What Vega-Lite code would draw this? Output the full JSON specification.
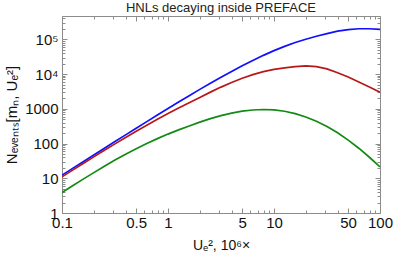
{
  "$schema": "https://vega.github.io/schema/vega-lite/v6.json",
  "width": 318,
  "height": 197,
  "autosize": "none",
  "padding": {"left": 62, "top": 16, "right": 15, "bottom": 46},
  "background": "white",
  "config": {
    "view": {"stroke": "#8c8c8c", "strokeWidth": 1},
    "font": "Liberation Sans",
    "axis": {"labelFont": "Liberation Sans", "titleFont": "Liberation Sans", "labelColor": "#111", "titleColor": "#111", "titleFontWeight": "normal", "domain": false, "grid": false, "tickColor": "#8c8c8c", "labelOverlap": false, "labelBound": false, "labelFlush": false}
  },
  "title": {"text": "HNLs decaying inside PREFACE", "fontSize": 13, "fontWeight": "normal", "font": "Liberation Sans", "color": "#222", "offset": -4},
  "data": {"values": [
    {"s":"blue","x":0.1,"n":12.30},{"s":"blue","x":0.1259,"n":19.23},{"s":"blue","x":0.1585,"n":30.06},{"s":"blue","x":0.1995,"n":46.99},{"s":"blue","x":0.2512,"n":73.28},{"s":"blue","x":0.3162,"n":114.3},{"s":"blue","x":0.3981,"n":177.8},{"s":"blue","x":0.5012,"n":276.1},{"s":"blue","x":0.631,"n":427.6},{"s":"blue","x":0.7943,"n":662.2},{"s":"blue","x":1,"n":1019},{"s":"blue","x":1.259,"n":1563},{"s":"blue","x":1.585,"n":2388},{"s":"blue","x":1.995,"n":3622},{"s":"blue","x":2.512,"n":5445},{"s":"blue","x":3.162,"n":8110},{"s":"blue","x":3.981,"n":11940},{"s":"blue","x":5.012,"n":17340},{"s":"blue","x":6.31,"n":24720},{"s":"blue","x":7.943,"n":34590},{"s":"blue","x":10,"n":47320},{"s":"blue","x":12.59,"n":62810},{"s":"blue","x":15.85,"n":81100},{"s":"blue","x":19.95,"n":100900},{"s":"blue","x":25.12,"n":123000},{"s":"blue","x":31.62,"n":146200},{"s":"blue","x":39.81,"n":171800},{"s":"blue","x":50.12,"n":190500},{"s":"blue","x":63.1,"n":201800},{"s":"blue","x":79.43,"n":201800},{"s":"blue","x":100,"n":193600},
    {"s":"red","x":0.1,"n":10.96},{"s":"red","x":0.1259,"n":17.14},{"s":"red","x":0.1585,"n":26.67},{"s":"red","x":0.1995,"n":41.30},{"s":"red","x":0.2512,"n":63.68},{"s":"red","x":0.3162,"n":97.72},{"s":"red","x":0.3981,"n":148.9},{"s":"red","x":0.5012,"n":224.9},{"s":"red","x":0.631,"n":336.5},{"s":"red","x":0.7943,"n":497.7},{"s":"red","x":1,"n":727.8},{"s":"red","x":1.259,"n":1052},{"s":"red","x":1.585,"n":1503},{"s":"red","x":1.995,"n":2123},{"s":"red","x":2.512,"n":3020},{"s":"red","x":3.162,"n":4217},{"s":"red","x":3.981,"n":5754},{"s":"red","x":5.012,"n":7586},{"s":"red","x":6.31,"n":9661},{"s":"red","x":7.943,"n":11750},{"s":"red","x":10,"n":13650},{"s":"red","x":12.59,"n":15140},{"s":"red","x":15.85,"n":16410},{"s":"red","x":19.95,"n":17180},{"s":"red","x":25.12,"n":16410},{"s":"red","x":31.62,"n":14130},{"s":"red","x":39.81,"n":10960},{"s":"red","x":50.12,"n":8222},{"s":"red","x":63.1,"n":5888},{"s":"red","x":79.43,"n":4217},{"s":"red","x":100,"n":2985},
    {"s":"green","x":0.1,"n":3.890},{"s":"green","x":0.1259,"n":6.081},{"s":"green","x":0.1585,"n":9.441},{"s":"green","x":0.1995,"n":14.55},{"s":"green","x":0.2512,"n":22.18},{"s":"green","x":0.3162,"n":33.34},{"s":"green","x":0.3981,"n":49.20},{"s":"green","x":0.5012,"n":71.12},{"s":"green","x":0.631,"n":100.5},{"s":"green","x":0.7943,"n":138.7},{"s":"green","x":1,"n":187.1},{"s":"green","x":1.259,"n":247.2},{"s":"green","x":1.585,"n":319.9},{"s":"green","x":1.995,"n":412.1},{"s":"green","x":2.512,"n":521.2},{"s":"green","x":3.162,"n":638.3},{"s":"green","x":3.981,"n":753.4},{"s":"green","x":5.012,"n":861.0},{"s":"green","x":6.31,"n":922.6},{"s":"green","x":7.943,"n":955.0},{"s":"green","x":10,"n":933.3},{"s":"green","x":12.59,"n":851.1},{"s":"green","x":15.85,"n":724.4},{"s":"green","x":19.95,"n":582.1},{"s":"green","x":25.12,"n":436.5},{"s":"green","x":31.62,"n":309.0},{"s":"green","x":39.81,"n":204.2},{"s":"green","x":50.12,"n":125.9},{"s":"green","x":63.1,"n":73.28},{"s":"green","x":79.43,"n":40.27},{"s":"green","x":100,"n":21.38}
  ]},
  "layer": [
    {
      "mark": {"type": "line", "strokeWidth": 1.7, "clip": true},
      "encoding": {
        "x": {"field": "x", "type": "quantitative",
          "scale": {"type": "log", "domain": [0.1, 100], "nice": false},
          "axis": {"orient": "bottom", "title": "Uₑ², 10⁶×", "titleFontSize": 14, "titlePadding": 6,
            "values": [0.1,0.2,0.3,0.4,0.5,0.6,0.7,0.8,0.9,1,2,3,4,5,6,7,8,9,10,20,30,40,50,60,70,80,90,100],
            "format": "~g", "labelFontSize": 15, "labelPadding": 7,
            "labelExpr": "indexof([0.1,0.5,1,5,10,50,100], datum.value) >= 0 ? datum.label : ''",
            "tickSize": {"condition": {"test": "indexof([0.1,0.5,1,5,10,50,100], datum.value) >= 0", "value": -5}, "value": -3}}},
        "y": {"field": "n", "type": "quantitative",
          "scale": {"type": "log", "domain": [1, 470000], "nice": false},
          "axis": {"orient": "left", "title": "Nₑᵥₑₙₜₛ[mₙ, Uₑ²]", "titleFontSize": 15, "titlePadding": 5,
            "values": [1,2,3,4,5,6,7,8,9,10,20,30,40,50,60,70,80,90,100,200,300,400,500,600,700,800,900,1000,2000,3000,4000,5000,6000,7000,8000,9000,10000,20000,30000,40000,50000,60000,70000,80000,90000,100000,200000,300000,400000],
            "format": "d", "labelFontSize": 15, "labelPadding": 9,
            "labelExpr": "datum.value == 10000 ? '10⁴' : datum.value == 100000 ? '10⁵' : (indexof([1,10,100,1000], datum.value) >= 0 ? datum.label : '')",
            "tickSize": {"condition": {"test": "indexof([1,10,100,1000,10000,100000], datum.value) >= 0", "value": -5}, "value": -3}}},
        "color": {"field": "s", "type": "nominal", "legend": null,
          "scale": {"domain": ["blue", "red", "green"], "range": ["#1010ff", "#b81818", "#138a13"]}}
      }
    },
    {
      "mark": {"type": "line", "strokeWidth": 1.7, "clip": true, "opacity": 0},
      "encoding": {
        "x": {"field": "x", "type": "quantitative",
          "axis": {"orient": "top", "title": null, "labels": false,
            "values": [0.1,0.2,0.3,0.4,0.5,0.6,0.7,0.8,0.9,1,2,3,4,5,6,7,8,9,10,20,30,40,50,60,70,80,90,100],
            "tickSize": {"condition": {"test": "indexof([0.1,0.5,1,5,10,50,100], datum.value) >= 0", "value": -5}, "value": -3}}},
        "y": {"field": "n", "type": "quantitative",
          "axis": {"orient": "right", "title": null, "labels": false,
            "values": [1,2,3,4,5,6,7,8,9,10,20,30,40,50,60,70,80,90,100,200,300,400,500,600,700,800,900,1000,2000,3000,4000,5000,6000,7000,8000,9000,10000,20000,30000,40000,50000,60000,70000,80000,90000,100000,200000,300000,400000],
            "tickSize": {"condition": {"test": "indexof([1,10,100,1000,10000,100000], datum.value) >= 0", "value": -5}, "value": -3}}},
        "detail": {"field": "s", "type": "nominal"}
      }
    }
  ],
  "resolve": {"axis": {"x": "independent", "y": "independent"}}
}
